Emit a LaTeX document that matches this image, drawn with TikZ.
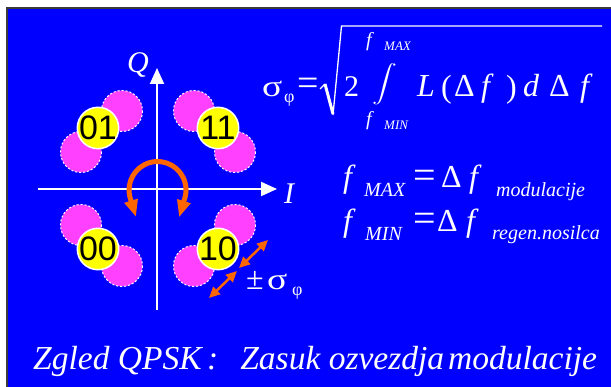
\documentclass[tikz,border=0pt]{standalone}
\usepackage{amsmath}
\usepackage{graphicx}
\usepackage{mathptmx}
\usepackage[no-math]{fontspec}
\setmainfont{Liberation Serif}
\newfontfamily\arialfont{Liberation Sans}
\usetikzlibrary{arrows.meta}
\definecolor{slideblue}{HTML}{0000FF}
\definecolor{framegray}{HTML}{3A3A3A}
\definecolor{spreadx}{HTML}{FF40FF}
\definecolor{symyel}{HTML}{FFFF00}
\definecolor{rotor}{HTML}{FF6600}
\newcommand{\fs}[1]{\fontsize{#1}{#1}\selectfont}
\newcommand{\wsig}{\scalebox{1.25}[1]{σ}}
\tikzset{
  axis/.style={-{Triangle[length=16pt,width=14pt]},line width=2pt,white},
  spread/.style={fill=spreadx,draw=white,line width=1pt,dash pattern=on 2pt off 2pt},
  dot/.style={fill=symyel,draw=white,line width=1.5pt},
  lbl/.style={font=\arialfont\fs{34},inner sep=0pt,text=black},
  txt/.style={text=white,inner sep=0pt,anchor=base west},
  rot/.style={{Triangle[length=17pt,width=13pt]}-{Triangle[length=17pt,width=13pt]},line width=5pt,rotor},
  dev/.style={{Triangle[length=11pt,width=10pt]}-{Triangle[length=11pt,width=10pt]},line width=2.5pt,rotor}
}
\begin{document}
\begin{tikzpicture}[x=1pt,y=-1pt]
\useasboundingbox (0,0) rectangle (611,387);
\fill[slideblue] (7,8) rectangle (611,387);
\draw[framegray,line width=2pt] (7,387) -- (7,8) -- (611,8);
% constellation
\coordinate (o) at (157,189);
\coordinate (iw) at (38,189);
\coordinate (ie) at (277,189);
\coordinate (qs) at (157,310);
\coordinate (qn) at (157,68);
\draw[axis] (iw) -- (ie);
\draw[axis] (qs) -- (qn);
\node[text=white,inner sep=0pt,font=\fs{30}\itshape] (qlab) at (138,65) {Q};
\node[text=white,inner sep=0pt,font=\fs{30}\itshape] (ilab) at (289,194) {I};
\foreach \x/\y/\a/\b/\t in {98/128/1/1/01,218/128/-1/1/11,98/249/1/-1/00,218/249/-1/-1/10}{
  \filldraw[spread] (\x+3.5*\a+20.5,\y+3.5*\b-20.5*\a*\b) circle (20.5);
  \filldraw[spread] (\x+3.5*\a-20.5,\y+3.5*\b+20.5*\a*\b) circle (20.5);
  \filldraw[dot] (\x,\y) circle (20.7);
  \node[lbl] (p\t) at (\x,\y) {\t};
}
\draw[rot] (136,217) -- (130,197.4) arc (165:375:28.5) -- ++(-6,20);
\coordinate (d1) at (209,298);
\coordinate (d2) at (237,271);
\coordinate (d3) at (239,268);
\coordinate (d4) at (268,240);
\draw[dev] (d1) -- (d2);
\draw[dev] (d3) -- (d4);
\node[txt,font=\fs{32}] (pm) at (246,290) {±};
\node[txt,font=\fs{30}] (pms) at (267,290) {\wsig};
\node[txt,font=\fs{18}] (pmp) at (292,296) {φ};
% sigma formula
\node[txt,font=\fs{30}] (sig) at (262,97) {\wsig};
\node[txt,font=\fs{18}] (sigp) at (284,103) {φ};
\node[text=white,inner sep=0pt,font=\fs{38}] (eqa) at (308.5,87) {=};
\draw[white,line width=1.3pt] (320,89) -- (325,84);
\draw[white,line width=3pt] (325,84) -- (333,114);
\draw[white,line width=1.3pt] (333,115) -- (341.5,26) -- (602,26);
\node[txt,font=\fs{30}] (two) at (344,97) {2};
\node[text=white,inner sep=0pt,font=\fs{23}] (intg) at (385,89) {\smash{\scalebox{1.2}[0.9]{$\displaystyle\int$}}};
\node[txt,font=\fs{20}\itshape] (upf) at (366,47) {f};
\node[txt,font=\fs{13}\itshape] (upm) at (384,51) {MAX};
\node[txt,font=\fs{20}\itshape] (lof) at (366,126) {f};
\node[txt,font=\fs{13}\itshape] (lom) at (384,130) {MIN};
\node[txt,font=\fs{32}\itshape] (tl) at (417,97) {L};
\node[txt,font=\fs{32}] (tp) at (441,98) {(};
\node[txt,font=\fs{32}] (td) at (454,97) {Δ};
\node[txt,font=\fs{32}\itshape] (tf) at (481,97) {f};
\node[txt,font=\fs{32}] (tq) at (506,98) {)};
\node[txt,font=\fs{32}\itshape] (tdd) at (523,97) {d};
\node[txt,font=\fs{32}] (tD) at (549,97) {Δ};
\node[txt,font=\fs{32}\itshape] (tF) at (580,97) {f};
% limits
\node[txt,font=\fs{32}\itshape] (mxf) at (343,188) {f};
\node[txt,font=\fs{20}\itshape] (mxs) at (364,197) {MAX};
\node[text=white,inner sep=0pt,font=\fs{40}] (mxe) at (424.5,179) {=};
\node[txt,font=\fs{32}] (mxd) at (441,188) {Δ};
\node[txt,font=\fs{32}\itshape] (mxg) at (469,188) {f};
\node[txt,font=\fs{20}\itshape] (mxm) at (496,197) {modulacije};
\node[txt,font=\fs{32}\itshape] (mnf) at (343,232) {f};
\node[txt,font=\fs{20}\itshape] (mns) at (365,241) {MIN};
\node[text=white,inner sep=0pt,font=\fs{40}] (mne) at (424.5,222.5) {=};
\node[txt,font=\fs{32}] (mnd) at (437,232) {Δ};
\node[txt,font=\fs{32}\itshape] (mng) at (466,232) {f};
\node[txt,font=\fs{20}\itshape] (mnr) at (492,240) {regen.nosilca};
\node[txt,font=\fs{33.5}\itshape] (title) at (33,370) {Zgled QPSK\,:\hspace{22pt}Zasuk ozvezdja\hspace{4pt}modulacije};
\end{tikzpicture}
\end{document}
